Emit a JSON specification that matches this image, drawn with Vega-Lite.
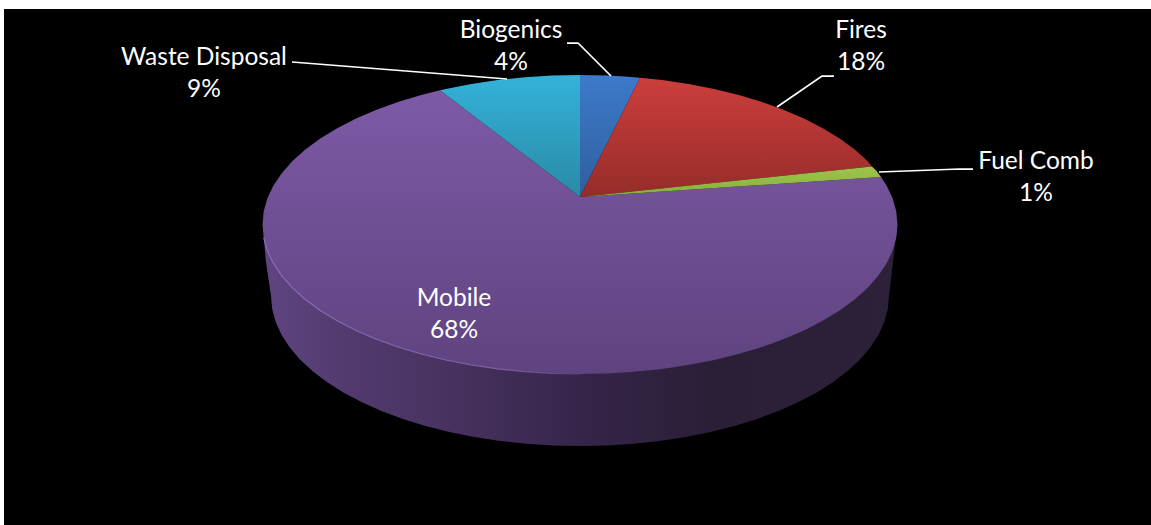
{
  "$schema": "https://vega.github.io/schema/vega-lite/v6.json",
  "width": 1147,
  "height": 516,
  "padding": {"left": 4, "top": 9, "right": 0, "bottom": 0},
  "autosize": "none",
  "background": "#ffffff",
  "view": {"fill": "#000000", "stroke": null},
  "config": {"axis": {"domain": false, "grid": false, "ticks": false, "labels": false, "title": null}},
  "datasets": {
    "outline": [
      {"part":"Side","i":0,"x":262.5,"y":224.5},{"part":"Side","i":1,"x":263.7,"y":237.5},{"part":"Side","i":2,"x":267.3,"y":250.5},{"part":"Side","i":3,"x":273.3,"y":263.2},{"part":"Side","i":4,"x":281.6,"y":275.6},{"part":"Side","i":5,"x":292.2,"y":287.7},{"part":"Side","i":6,"x":305,"y":299.3},{"part":"Side","i":7,"x":319.9,"y":310.3},{"part":"Side","i":8,"x":336.8,"y":320.6},{"part":"Side","i":9,"x":355.5,"y":330.2},{"part":"Side","i":10,"x":375.9,"y":339},{"part":"Side","i":11,"x":397.9,"y":347},{"part":"Side","i":12,"x":421.2,"y":354},{"part":"Side","i":13,"x":445.8,"y":360},{"part":"Side","i":14,"x":471.4,"y":365},{"part":"Side","i":15,"x":524.9,"y":371.7},{"part":"Side","i":16,"x":580,"y":374},{"part":"Side","i":17,"x":635.1,"y":371.7},{"part":"Side","i":18,"x":688.6,"y":365},{"part":"Side","i":19,"x":738.8,"y":354},{"part":"Side","i":20,"x":784.1,"y":339},{"part":"Side","i":21,"x":823.2,"y":320.6},{"part":"Side","i":22,"x":855,"y":299.3},{"part":"Side","i":23,"x":878.4,"y":275.6},{"part":"Side","i":24,"x":892.7,"y":250.5},{"part":"Side","i":25,"x":897.5,"y":224.5},
      {"part":"Side","i":26,"x":893,"y":262},{"part":"Side","i":27,"x":889,"y":296},{"part":"Side","i":28,"x":887.8,"y":309.1},{"part":"Side","i":29,"x":884.3,"y":322},{"part":"Side","i":30,"x":878.5,"y":334.8},{"part":"Side","i":31,"x":870.4,"y":347.3},{"part":"Side","i":32,"x":860,"y":359.4},{"part":"Side","i":33,"x":847.6,"y":371},{"part":"Side","i":34,"x":833.1,"y":382},{"part":"Side","i":35,"x":816.7,"y":392.4},{"part":"Side","i":36,"x":798.5,"y":402.1},{"part":"Side","i":37,"x":778.6,"y":410.9},{"part":"Side","i":38,"x":757.2,"y":418.9},{"part":"Side","i":39,"x":734.5,"y":425.9},{"part":"Side","i":40,"x":710.6,"y":432},{"part":"Side","i":41,"x":685.7,"y":437},{"part":"Side","i":42,"x":659.9,"y":440.9},{"part":"Side","i":43,"x":633.7,"y":443.7},{"part":"Side","i":44,"x":606.9,"y":445.4},{"part":"Side","i":45,"x":580,"y":446},{"part":"Side","i":46,"x":553.1,"y":445.4},{"part":"Side","i":47,"x":526.3,"y":443.7},{"part":"Side","i":48,"x":500.1,"y":440.9},{"part":"Side","i":49,"x":474.3,"y":437},{"part":"Side","i":50,"x":449.4,"y":432},{"part":"Side","i":51,"x":425.5,"y":425.9},{"part":"Side","i":52,"x":402.8,"y":418.9},{"part":"Side","i":53,"x":381.4,"y":410.9},{"part":"Side","i":54,"x":361.5,"y":402.1},{"part":"Side","i":55,"x":343.3,"y":392.4},{"part":"Side","i":56,"x":326.9,"y":382},{"part":"Side","i":57,"x":312.4,"y":371},{"part":"Side","i":58,"x":300,"y":359.4},{"part":"Side","i":59,"x":289.6,"y":347.3},{"part":"Side","i":60,"x":281.5,"y":334.8},{"part":"Side","i":61,"x":275.7,"y":322},{"part":"Side","i":62,"x":272.2,"y":309.1},{"part":"Side","i":63,"x":271,"y":296},{"part":"Side","i":64,"x":266,"y":262},

      {"part":"Mobile","i":0,"x":580,"y":197},{"part":"Mobile","i":1,"x":881,"y":177},{"part":"Mobile","i":2,"x":886.7,"y":185.8},{"part":"Mobile","i":3,"x":892.7,"y":198.5},{"part":"Mobile","i":4,"x":896.3,"y":211.5},{"part":"Mobile","i":5,"x":897.5,"y":224.5},{"part":"Mobile","i":6,"x":896.3,"y":237.5},{"part":"Mobile","i":7,"x":892.7,"y":250.5},{"part":"Mobile","i":8,"x":886.7,"y":263.2},{"part":"Mobile","i":9,"x":878.4,"y":275.6},{"part":"Mobile","i":10,"x":867.8,"y":287.7},{"part":"Mobile","i":11,"x":855,"y":299.3},{"part":"Mobile","i":12,"x":840.1,"y":310.3},{"part":"Mobile","i":13,"x":823.2,"y":320.6},{"part":"Mobile","i":14,"x":804.5,"y":330.2},{"part":"Mobile","i":15,"x":784.1,"y":339},{"part":"Mobile","i":16,"x":762.1,"y":347},{"part":"Mobile","i":17,"x":738.8,"y":354},{"part":"Mobile","i":18,"x":714.2,"y":360},{"part":"Mobile","i":19,"x":688.6,"y":365},{"part":"Mobile","i":20,"x":662.2,"y":368.9},{"part":"Mobile","i":21,"x":635.1,"y":371.7},{"part":"Mobile","i":22,"x":607.7,"y":373.4},{"part":"Mobile","i":23,"x":580,"y":374},{"part":"Mobile","i":24,"x":552.3,"y":373.4},{"part":"Mobile","i":25,"x":524.9,"y":371.7},{"part":"Mobile","i":26,"x":497.8,"y":368.9},{"part":"Mobile","i":27,"x":471.4,"y":365},{"part":"Mobile","i":28,"x":445.8,"y":360},{"part":"Mobile","i":29,"x":421.2,"y":354},{"part":"Mobile","i":30,"x":397.9,"y":347},{"part":"Mobile","i":31,"x":375.9,"y":339},{"part":"Mobile","i":32,"x":355.5,"y":330.2},{"part":"Mobile","i":33,"x":336.8,"y":320.6},{"part":"Mobile","i":34,"x":319.9,"y":310.3},{"part":"Mobile","i":35,"x":305,"y":299.3},{"part":"Mobile","i":36,"x":292.2,"y":287.7},{"part":"Mobile","i":37,"x":281.6,"y":275.6},{"part":"Mobile","i":38,"x":273.3,"y":263.2},{"part":"Mobile","i":39,"x":267.3,"y":250.5},{"part":"Mobile","i":40,"x":263.7,"y":237.5},{"part":"Mobile","i":41,"x":262.5,"y":224.5},{"part":"Mobile","i":42,"x":263.7,"y":211.5},{"part":"Mobile","i":43,"x":267.3,"y":198.5},{"part":"Mobile","i":44,"x":273.3,"y":185.8},{"part":"Mobile","i":45,"x":281.6,"y":173.4},{"part":"Mobile","i":46,"x":292.2,"y":161.3},{"part":"Mobile","i":47,"x":305,"y":149.8},{"part":"Mobile","i":48,"x":319.9,"y":138.7},{"part":"Mobile","i":49,"x":336.8,"y":128.4},{"part":"Mobile","i":50,"x":355.5,"y":118.8},{"part":"Mobile","i":51,"x":375.9,"y":110},{"part":"Mobile","i":52,"x":397.9,"y":102},{"part":"Mobile","i":53,"x":421.2,"y":95},{"part":"Mobile","i":54,"x":440,"y":90.3},

      {"part":"Waste Disposal","i":0,"x":580,"y":197},{"part":"Waste Disposal","i":1,"x":440,"y":90.3},{"part":"Waste Disposal","i":2,"x":445.8,"y":89},{"part":"Waste Disposal","i":3,"x":471.4,"y":84},{"part":"Waste Disposal","i":4,"x":497.8,"y":80.1},{"part":"Waste Disposal","i":5,"x":524.9,"y":77.3},{"part":"Waste Disposal","i":6,"x":552.3,"y":75.6},{"part":"Waste Disposal","i":7,"x":580,"y":75},

      {"part":"Biogenics","i":0,"x":580,"y":197},{"part":"Biogenics","i":1,"x":580,"y":75},{"part":"Biogenics","i":2,"x":607.7,"y":75.6},{"part":"Biogenics","i":3,"x":625,"y":76.4},{"part":"Biogenics","i":4,"x":640,"y":77.7},

      {"part":"Fires","i":0,"x":580,"y":197},{"part":"Fires","i":1,"x":640,"y":77.7},{"part":"Fires","i":2,"x":662.2,"y":80.1},{"part":"Fires","i":3,"x":688.6,"y":84},{"part":"Fires","i":4,"x":714.2,"y":89},{"part":"Fires","i":5,"x":738.8,"y":95},{"part":"Fires","i":6,"x":762.1,"y":102},{"part":"Fires","i":7,"x":784.1,"y":110},{"part":"Fires","i":8,"x":804.5,"y":118.8},{"part":"Fires","i":9,"x":823.2,"y":128.4},{"part":"Fires","i":10,"x":840.1,"y":138.7},{"part":"Fires","i":11,"x":855,"y":149.8},{"part":"Fires","i":12,"x":867.8,"y":161.3},{"part":"Fires","i":13,"x":872,"y":166.5},

      {"part":"Fuel Comb","i":0,"x":580,"y":197},{"part":"Fuel Comb","i":1,"x":872,"y":166.5},{"part":"Fuel Comb","i":2,"x":876.6,"y":171.1},{"part":"Fuel Comb","i":3,"x":881,"y":177}
    ],
    "rim": [
      {"i":0,"x":263.7,"y":237.5},{"i":1,"x":267.3,"y":250.5},{"i":2,"x":273.3,"y":263.2},{"i":3,"x":281.6,"y":275.6},{"i":4,"x":292.2,"y":287.7},{"i":5,"x":305,"y":299.3},{"i":6,"x":319.9,"y":310.3},{"i":7,"x":336.8,"y":320.6},{"i":8,"x":355.5,"y":330.2},{"i":9,"x":375.9,"y":339},{"i":10,"x":397.9,"y":347},{"i":11,"x":421.2,"y":354},{"i":12,"x":445.8,"y":360},{"i":13,"x":471.4,"y":365},{"i":14,"x":497.8,"y":368.9},{"i":15,"x":524.9,"y":371.7},{"i":16,"x":552.3,"y":373.4},{"i":17,"x":580,"y":374}
    ],
    "leaders": [
      {"slice":"Waste Disposal","i":0,"x":292,"y":62},{"slice":"Waste Disposal","i":1,"x":507,"y":79},
      {"slice":"Biogenics","i":0,"x":567,"y":43},{"slice":"Biogenics","i":1,"x":578,"y":43},{"slice":"Biogenics","i":2,"x":611,"y":76},
      {"slice":"Fires","i":0,"x":777,"y":107},{"slice":"Fires","i":1,"x":822,"y":76},{"slice":"Fires","i":2,"x":834,"y":76},
      {"slice":"Fuel Comb","i":0,"x":879,"y":172},{"slice":"Fuel Comb","i":1,"x":960,"y":169},{"slice":"Fuel Comb","i":2,"x":973,"y":169}
    ],
    "labels": [
      {"slice":"Waste Disposal","share":9,"label":"Waste Disposal\n9%","x":204,"y":57.5},
      {"slice":"Biogenics","share":4,"label":"Biogenics\n4%","x":511,"y":31},
      {"slice":"Fires","share":18,"label":"Fires\n18%","x":861,"y":31},
      {"slice":"Fuel Comb","share":1,"label":"Fuel Comb\n1%","x":1036,"y":161.5},
      {"slice":"Mobile","share":68,"label":"Mobile\n68%","x":454,"y":298.5}
    ]
  },
  "encoding": {
    "x": {"field": "x", "type": "quantitative", "scale": {"domain": [4, 1151]}, "axis": null},
    "y": {"field": "y", "type": "quantitative", "scale": {"domain": [525, 9]}, "axis": null},
    "order": {"field": "i", "type": "ordinal"}
  },
  "layer": [
    {
      "data": {"name": "outline"},
      "transform": [{"filter": "datum.part === 'Side'"}],
      "mark": {"type": "line", "interpolate": "linear-closed", "strokeWidth": 0,
        "fill": {"gradient": "linear", "x1": 0, "y1": 0, "x2": 1, "y2": 0, "stops": [
          {"offset": 0, "color": "#604581"},
          {"offset": 0.13, "color": "#523a6f"},
          {"offset": 0.3, "color": "#47325f"},
          {"offset": 0.5, "color": "#35254a"},
          {"offset": 0.7, "color": "#2b1f38"},
          {"offset": 1, "color": "#2d2039"}
        ]}}
    },
    {
      "data": {"name": "outline"},
      "transform": [{"filter": "datum.part === 'Mobile'"}],
      "mark": {"type": "line", "interpolate": "linear-closed", "strokeWidth": 0,
        "fill": {"gradient": "linear", "x1": 0, "y1": 0, "x2": 0, "y2": 1, "stops": [
          {"offset": 0, "color": "#7d5aa6"},
          {"offset": 1, "color": "#5f437f"}
        ]}}
    },
    {
      "data": {"name": "rim"},
      "mark": {"type": "line", "strokeWidth": 1.2,
        "stroke": {"gradient": "linear", "x1": 0, "y1": 0, "x2": 1, "y2": 0, "stops": [
          {"offset": 0, "color": "#8a6bb8"},
          {"offset": 0.7, "color": "#8064a8"},
          {"offset": 1, "color": "#5f437f"}
        ]}}
    },
    {
      "data": {"name": "outline"},
      "transform": [{"filter": "datum.part === 'Waste Disposal'"}],
      "mark": {"type": "line", "interpolate": "linear-closed", "strokeWidth": 0,
        "fill": {"gradient": "linear", "x1": 0, "y1": 0, "x2": 0, "y2": 1, "stops": [
          {"offset": 0, "color": "#34b2da"},
          {"offset": 1, "color": "#2a8aa5"}
        ]}}
    },
    {
      "data": {"name": "outline"},
      "transform": [{"filter": "datum.part === 'Biogenics'"}],
      "mark": {"type": "line", "interpolate": "linear-closed", "strokeWidth": 0,
        "fill": {"gradient": "linear", "x1": 0, "y1": 0, "x2": 0, "y2": 1, "stops": [
          {"offset": 0, "color": "#3d7aca"},
          {"offset": 1, "color": "#2e5f9e"}
        ]}}
    },
    {
      "data": {"name": "outline"},
      "transform": [{"filter": "datum.part === 'Fires'"}],
      "mark": {"type": "line", "interpolate": "linear-closed", "strokeWidth": 0,
        "fill": {"gradient": "linear", "x1": 0, "y1": 0, "x2": 0, "y2": 1, "stops": [
          {"offset": 0, "color": "#cc3e3c"},
          {"offset": 1, "color": "#962c2a"}
        ]}}
    },
    {
      "data": {"name": "outline"},
      "transform": [{"filter": "datum.part === 'Fuel Comb'"}],
      "mark": {"type": "line", "interpolate": "linear-closed", "strokeWidth": 0,
        "fill": {"gradient": "linear", "x1": 0, "y1": 0, "x2": 0, "y2": 1, "stops": [
          {"offset": 0, "color": "#9dc64c"},
          {"offset": 1, "color": "#87ac3e"}
        ]}}
    },
    {
      "data": {"name": "leaders"},
      "mark": {"type": "line", "stroke": "#ffffff", "strokeWidth": 1.75},
      "encoding": {"detail": {"field": "slice"}}
    },
    {
      "data": {"name": "labels"},
      "mark": {"type": "text", "font": "Lato", "fontSize": 24.5, "color": "#ffffff", "lineBreak": "\n", "lineHeight": 32, "align": "center", "baseline": "middle"},
      "encoding": {"text": {"field": "label"}, "order": null}
    }
  ]
}
